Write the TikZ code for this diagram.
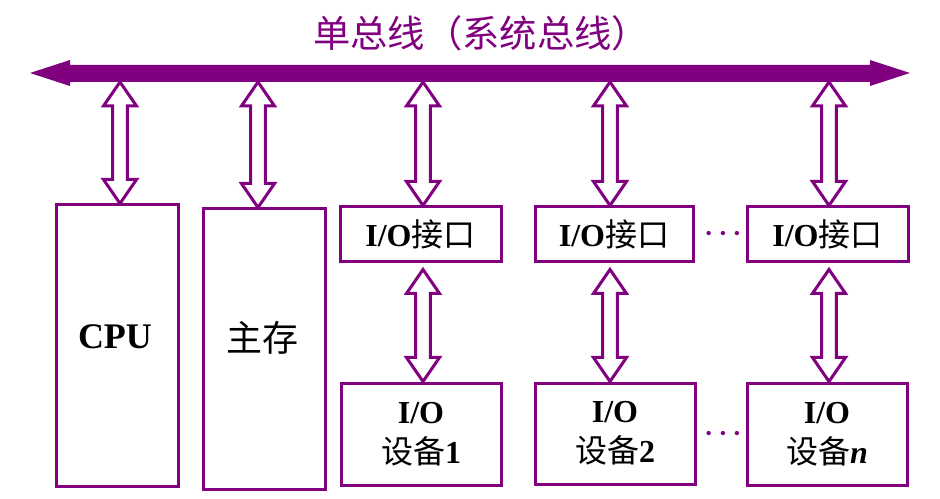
\documentclass[tikz,border=0pt]{standalone}
\usepackage{fontspec}
\setmainfont{Liberation Serif}
\newfontfamily\cjk{Noto Sans CJK SC}
\usetikzlibrary{calc}
\definecolor{pur}{HTML}{800080}
\newcommand\dblarr[2]{%
  \draw[dblarrow] let \p1=(#1), \p2=(#2) in
    (\x1,\y1) -- (\x1+12.4pt,\y1-18pt) -- (\x1+5.6pt,\y1-18pt) --
    (\x1+5.6pt,\y2+18pt) -- (\x1+12.4pt,\y2+18pt) -- (\x1,\y2) --
    (\x1-12.4pt,\y2+18pt) -- (\x1-5.6pt,\y2+18pt) --
    (\x1-5.6pt,\y1-18pt) -- (\x1-12.4pt,\y1-18pt) -- cycle;}
\begin{document}
\begin{tikzpicture}[x=0.75pt,y=-0.75pt,
  box/.style={draw=pur,line width=2.25pt,inner sep=0pt,align=center,
    font=\fontsize{24}{30}\selectfont},
  bigtext/.style={font=\fontsize{27}{32}\selectfont},
  dblarrow/.style={draw=pur,line width=2.25pt,fill=white,line join=miter},
  dotsnode/.style={text=pur,font=\fontsize{20}{22}\selectfont\boldmath,inner sep=0pt}]
\useasboundingbox (0,0) rectangle (940,499);
% title
\node[font=\cjk\fontsize{28}{32}\selectfont,text=pur,inner sep=0pt] (title) at (481,33) {单总线（系统总线）};
% bus
\coordinate (busL) at (30,73);
\coordinate (busR) at (910,73);
\fill[pur] (busL) -- ++(40,-13) -- ++(0,5) -- ($(busR)+(-40,-8)$) -- ++(0,-5) --
  (busR) -- ++(-40,13) -- ++(0,-4) -- ($(busL)+(40,9)$) -- ++(0,4) -- cycle;
% boxes
\node[box,minimum width=91.5pt,minimum height=210.75pt] (cpu) at (117,345.5) {};
\node[bigtext] (cputxt) at (115,337) {\textbf{CPU}};
\node[box,minimum width=91.5pt,minimum height=210pt] (mem) at (264,349) {};
\node[bigtext] (memtxt) at (262,338) {\cjk 主存};
\node[box,minimum width=120.75pt,minimum height=41.25pt] (if1) at (420.5,234.5) {\textbf{I/O}{\cjk 接口}};
\node[box,minimum width=118.5pt,minimum height=41.25pt] (if2) at (614,234.5) {\textbf{I/O}{\cjk 接口}};
\node[box,minimum width=120.75pt,minimum height=41.25pt] (if3) at (827.5,234.5) {\textbf{I/O}{\cjk 接口}};
\node[box,minimum width=120pt,minimum height=76.5pt] (dev1) at (421,434) {\textbf{I/O}\\{\cjk 设备}\textbf{1}};
\node[box,minimum width=120pt,minimum height=75.75pt] (dev2) at (615,433.5) {\textbf{I/O}\\{\cjk 设备}\textbf{2}};
\node[box,minimum width=120pt,minimum height=76.5pt] (dev3) at (827,434) {\textbf{I/O}\\{\cjk 设备}\textbf{\textit{n}}};
% dots
\node[dotsnode] (dots1) at (723,234) {$\cdots$};
\node[dotsnode] (dots2) at (723,434) {$\cdots$};
% arrow anchor points on bus
\coordinate (c1) at (120,82);
\coordinate (c2) at (258,82);
\coordinate (c3) at (423,82);
\coordinate (c4) at (610,82);
\coordinate (c5) at (829,82);
\dblarr{c1}{c1 |- cpu.north}
\dblarr{c2}{c2 |- mem.north}
\dblarr{c3}{c3 |- if1.north}
\dblarr{c4}{c4 |- if2.north}
\dblarr{c5}{c5 |- if3.north}
\dblarr{$(c3 |- if1.south)+(0,6)$}{c3 |- dev1.north}
\dblarr{$(c4 |- if2.south)+(0,6)$}{c4 |- dev2.north}
\dblarr{$(c5 |- if3.south)+(0,6)$}{c5 |- dev3.north}
\end{tikzpicture}
\end{document}
